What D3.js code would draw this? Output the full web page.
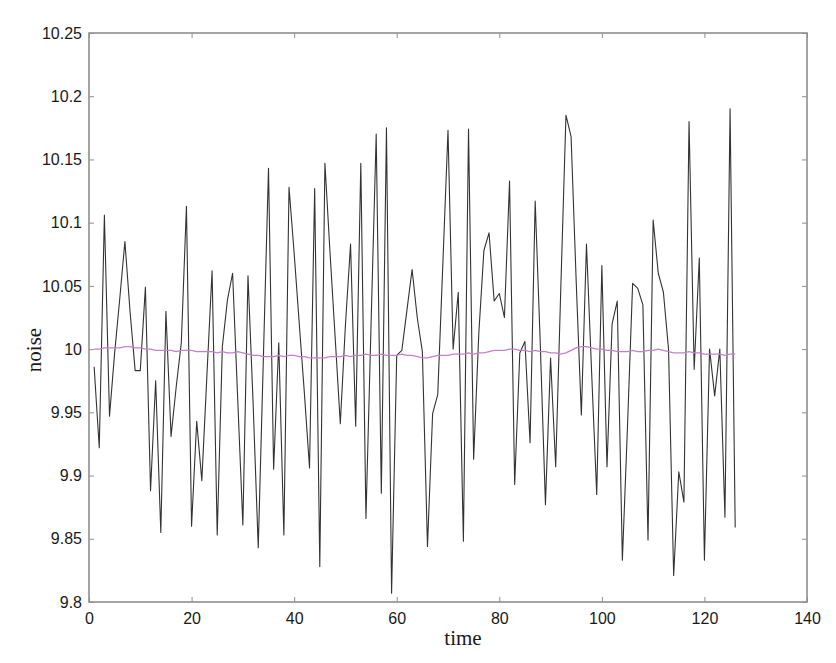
<!DOCTYPE html>
<html>
<head>
<meta charset="utf-8">
<script src="https://cdn.jsdelivr.net/npm/d3@7"></script>
<style>
  html, body { margin: 0; padding: 0; background: #fff; }
  svg { display: block; }
</style>
</head>
<body>
<svg id="chart" width="836" height="663"></svg>
<script>
// ---- data ----
const noise = [
  9.986, 9.922, 10.106, 9.947, 9.997, 10.040, 10.085, 10.030, 9.983, 9.983,
  10.049, 9.888, 9.975, 9.855, 10.030, 9.931, 9.970, 10.005, 10.113, 9.860,
  9.943, 9.896, 9.980, 10.062, 9.853, 10.002, 10.039, 10.060, 9.960, 9.861,
  10.058, 9.957, 9.843, 9.993, 10.143, 9.905, 10.005, 9.853, 10.128, 10.076,
  10.020, 9.965, 9.906, 10.127, 9.828, 10.147, 10.076, 10.009, 9.941, 10.019,
  10.083, 9.939, 10.147, 9.866, 10.020, 10.170, 9.886, 10.175, 9.807, 9.995,
  9.999, 10.031, 10.063, 10.025, 9.998, 9.844, 9.949, 9.964, 10.068, 10.173,
  10.000, 10.045, 9.848, 10.174, 9.913, 10.012, 10.078, 10.092, 10.038, 10.044,
  10.025, 10.133, 9.893, 9.997, 10.006, 9.926, 10.117, 10.003, 9.877, 9.993,
  9.907, 10.049, 10.185, 10.168, 10.053, 9.948, 10.083, 9.982, 9.885, 10.066,
  9.907, 10.020, 10.038, 9.833, 9.939, 10.052, 10.048, 10.035, 9.849, 10.102,
  10.060, 10.045, 10.000, 9.821, 9.903, 9.879, 10.180, 9.984, 10.072, 9.833,
  10.000, 9.963, 10.000, 9.867, 10.190, 9.859
];
const trend = [
  10.000, 10.000, 10.001, 10.001, 10.001, 10.001, 10.002, 10.002, 10.001, 10.001,
  10.000, 10.000, 9.999, 9.999, 9.999, 9.999, 9.998, 9.999, 9.999, 9.999,
  9.998, 9.998, 9.998, 9.998, 9.997, 9.998, 9.997, 9.997, 9.998, 9.997,
  9.996, 9.995, 9.995, 9.994, 9.994, 9.994, 9.995, 9.994, 9.995, 9.995,
  9.994, 9.994, 9.993, 9.993, 9.993, 9.993, 9.994, 9.994, 9.994, 9.995,
  9.994, 9.995, 9.995, 9.996, 9.995, 9.995, 9.996, 9.995, 9.995, 9.995,
  9.996, 9.995, 9.995, 9.994, 9.993, 9.993, 9.994, 9.995, 9.995, 9.995,
  9.996, 9.996, 9.996, 9.997, 9.996, 9.997, 9.997, 9.998, 9.999, 9.999,
  9.999, 10.000, 10.000, 9.999, 9.999, 9.998, 9.999, 9.998, 9.998, 9.997,
  9.997, 9.996, 9.997, 9.999, 10.001, 10.002, 10.002, 10.001, 10.000, 10.000,
  9.999, 9.999, 9.998, 9.998, 9.998, 9.999, 9.998, 9.998, 9.999, 9.999,
  10.000, 9.999, 9.998, 9.997, 9.997, 9.997, 9.998, 9.997, 9.997, 9.996,
  9.996, 9.996, 9.996, 9.995, 9.996, 9.996
];
const xTicks = [0, 20, 40, 60, 80, 100, 120, 140];
const yTicks = [9.8, 9.85, 9.9, 9.95, 10, 10.05, 10.1, 10.15, 10.2, 10.25];
const xLabel = "time";
const yLabel = "noise";

(function () {
  // ---- layout ----
  const mLeft = 89, mRight = 807, mTop = 33, mBottom = 602;
  const svg = d3.select("#chart");

  const x = d3.scaleLinear().domain([0, 140]).range([mLeft, mRight]);
  const y = d3.scaleLinear().domain([9.8, 10.25]).range([mBottom, mTop]);

  const axisColor = "#8f8f8f";
  const tickFont = "'Liberation Sans', Arial, sans-serif";

  // box
  svg.append("rect")
    .attr("x", mLeft).attr("y", mTop)
    .attr("width", mRight - mLeft).attr("height", mBottom - mTop)
    .attr("fill", "none").attr("stroke", axisColor).attr("stroke-width", 1.6);

  // axes (ticks inward, MATLAB style)
  const xAxis = d3.axisBottom(x).tickValues(xTicks).tickSizeInner(-5).tickSizeOuter(0).tickPadding(11)
    .tickFormat(d3.format("d"));
  const gx = svg.append("g").attr("transform", `translate(0,${mBottom})`).call(xAxis);
  const xAxisTop = d3.axisTop(x).tickValues(xTicks).tickSizeInner(-5).tickSizeOuter(0).tickFormat("");
  const gxt = svg.append("g").attr("transform", `translate(0,${mTop})`).call(xAxisTop);

  const yAxis = d3.axisLeft(y).tickValues(yTicks).tickSizeInner(-5).tickSizeOuter(0).tickPadding(7)
    .tickFormat(d => String(+d.toFixed(2)));
  const gy = svg.append("g").attr("transform", `translate(${mLeft},0)`).call(yAxis);
  const yAxisRight = d3.axisRight(y).tickValues(yTicks).tickSizeInner(-5).tickSizeOuter(0).tickFormat("");
  const gyr = svg.append("g").attr("transform", `translate(${mRight},0)`).call(yAxisRight);

  [gx, gxt, gy, gyr].forEach(g => {
    g.select(".domain").remove();
    g.selectAll(".tick line").attr("stroke", axisColor).attr("stroke-width", 1);
    g.selectAll(".tick text").attr("fill", "#1a1a1a")
      .style("font-family", tickFont).style("font-size", "16px");
  });

  // lines
  const line = d3.line().x((d, i) => x(i + 1)).y(d => y(d));
  svg.append("path").datum(noise)
    .attr("d", line).attr("fill", "none")
    .attr("stroke", "#333").attr("stroke-width", 1.1).attr("stroke-linejoin", "round");
  svg.append("path").datum(trend)
    .attr("d", line).attr("fill", "none")
    .attr("stroke", "#c77fcb").attr("stroke-width", 1.3);

  // axis labels
  svg.append("text")
    .attr("x", 463).attr("y", 645)
    .attr("text-anchor", "middle")
    .style("font-family", "'Liberation Serif', 'Times New Roman', serif")
    .style("font-size", "21px").attr("fill", "#1a1a1a")
    .text(xLabel);
  svg.append("text")
    .attr("transform", "translate(41,350) rotate(-90)")
    .attr("text-anchor", "middle")
    .style("font-family", "'Liberation Serif', 'Times New Roman', serif")
    .style("font-size", "21px").attr("fill", "#1a1a1a")
    .text(yLabel);
})();
</script>
</body>
</html>
